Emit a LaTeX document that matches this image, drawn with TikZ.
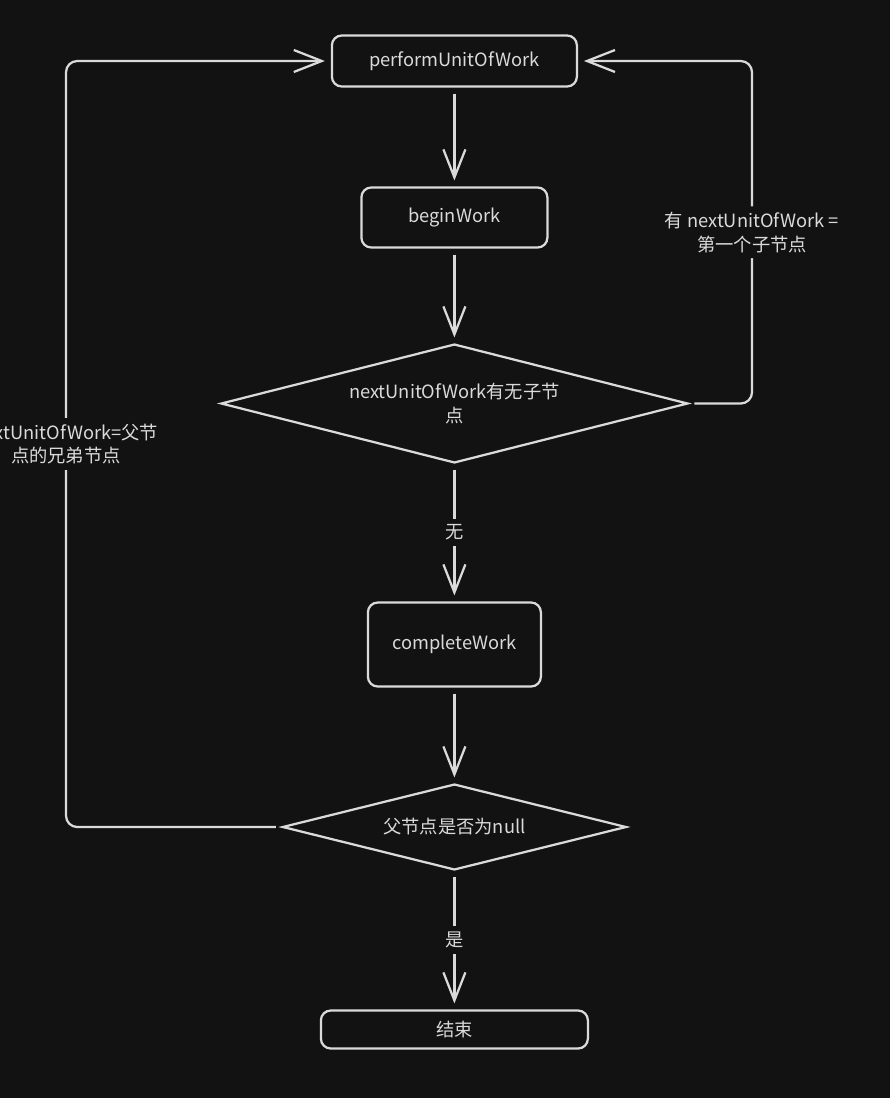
\documentclass[tikz,border=0pt]{standalone}
\usepackage{fontspec}
\setmainfont{Noto Sans CJK SC}
\usetikzlibrary{shapes.geometric,arrows.meta,positioning}
\definecolor{canvas}{HTML}{121212}
\definecolor{ink}{HTML}{DADADA}

\begin{document}
\begin{tikzpicture}[
    node distance=2.5cm,
    every node/.style={text=ink, font=\fontsize{13}{17}\selectfont},
    proc/.style={rectangle, rounded corners=7pt, draw=ink, line width=1.6pt, fill=canvas, align=center, outer sep=0pt},
    cond/.style={diamond, draw=ink, line width=1.6pt, fill=canvas, align=center, aspect=3.9, inner sep=1pt, outer sep=0pt},
    flow/.style={draw=ink, line width=1.6pt, -{Straight Barb[length=7mm, width=5.5mm]}, shorten <=5pt, shorten >=5pt},
    tag/.style={fill=canvas, align=center, inner sep=4pt}
]
\fill[canvas] (0,0) rectangle (22.25,-27.45);
\useasboundingbox (0,0) rectangle (22.25,-27.45);

\node[proc, minimum width=6.125cm, minimum height=1.275cm] (perform) at (11.36,-1.525) {performUnitOfWork};
\node[proc, minimum width=4.65cm, minimum height=1.5cm, below=2.525cm of perform] (begin) {beginWork};
\node[cond, minimum width=11.65cm, minimum height=2.95cm, below=2.425cm of begin] (haschild) {nextUnitOfWork有无子节\\点};
\node[proc, minimum width=4.325cm, minimum height=2.1cm, below=3.5cm of haschild] (complete) {completeWork};
\node[cond, minimum width=8.575cm, minimum height=2.125cm, below=2.45cm of complete] (isnull) {父节点是否为null};
\node[proc, minimum width=6.675cm, minimum height=0.95cm, below=3.525cm of isnull] (finish) {结束};

\coordinate (rrail) at (18.8,0);
\coordinate (lrail) at (1.65,0);

\draw[flow] (perform) -- (begin);
\draw[flow] (begin) -- (haschild);
\draw[flow] (haschild) -- node[tag] {无} (complete);
\draw[flow] (complete) -- (isnull);
\draw[flow] (isnull) -- node[tag] {是} (finish);

% loops back to performUnitOfWork
\draw[flow, rounded corners=8pt] (haschild.east) -- (haschild.east -| rrail) -- node[tag] {有 nextUnitOfWork =\\第一个子节点} (perform.east -| rrail) -- (perform.east);
\draw[flow, rounded corners=8pt] (isnull.west) -- (isnull.west -| lrail) -- node[tag] {nextUnitOfWork=父节\\点的兄弟节点} (perform.west -| lrail) -- (perform.west);

\end{tikzpicture}
\end{document}
